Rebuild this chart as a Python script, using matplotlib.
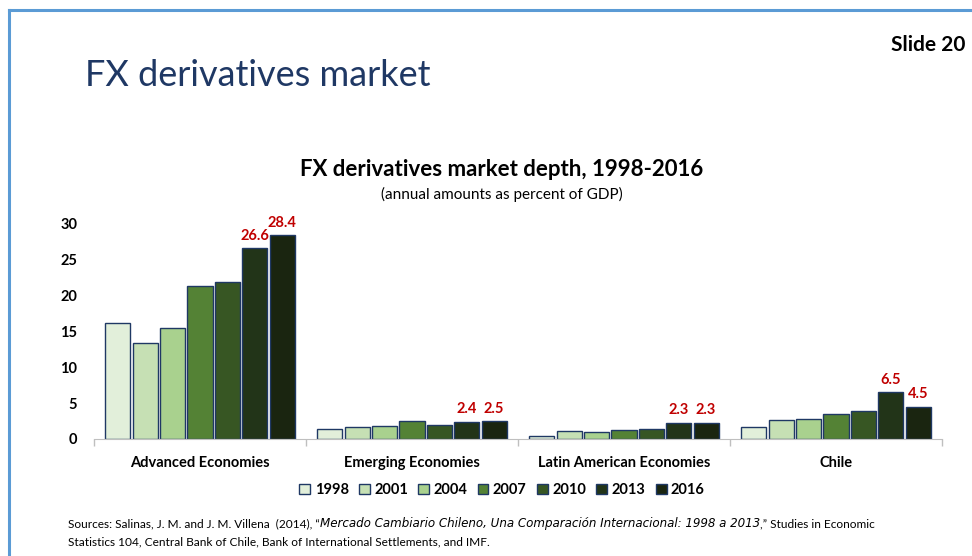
import numpy as np
import matplotlib
matplotlib.use("Agg")
import matplotlib.pyplot as plt
from matplotlib.lines import Line2D
from matplotlib.patches import Patch

plt.rcParams['font.family'] = ['Lato', 'DejaVu Sans']

# Data (percent of GDP)
regions = ['Advanced Economies', 'Emerging Economies', 'Latin American Economies', 'Chile']
years = ['1998', '2001', '2004', '2007', '2010', '2013', '2016']
values = {
    '1998': [16.2, 1.35, 0.4, 1.7],
    '2001': [13.4, 1.65, 1.05, 2.65],
    '2004': [15.5, 1.75, 0.95, 2.85],
    '2007': [21.3, 2.45, 1.2, 3.45],
    '2010': [21.9, 2.0, 1.35, 3.9],
    '2013': [26.6, 2.4, 2.3, 6.5],
    '2016': [28.4, 2.5, 2.3, 4.5],
}
# only the last two years carry a value label
labelled_years = ['2013', '2016']
yticks = [0, 5, 10, 15, 20, 25, 30]

colors = ['#E2EFDA', '#C6E0B4', '#A9D18E', '#548235', '#375623', '#223418', '#1A2510']
edge = '#1F3864'
red = '#C00000'

fig = plt.figure(figsize=(9.72, 5.56), dpi=100)
ax = fig.add_axes([94 / 972, 1 - 439 / 556, (942 - 94) / 972, (439 - 224) / 556])

x = np.arange(len(regions))
slot = 0.129
width = 0.118
for i, yr in enumerate(years):
    pos = x + (i - 3) * slot
    bars = ax.bar(pos, values[yr], width, color=colors[i], edgecolor=edge, linewidth=1, label=yr)
    if yr in labelled_years:
        for b, v in zip(bars, values[yr]):
            ax.annotate(f'{v:.1f}', (b.get_x() + b.get_width() / 2, b.get_height()),
                        xytext=(0, 4), textcoords='offset points', ha='center', va='bottom',
                        color=red, fontweight='bold', fontsize=10.5, annotation_clip=False)

ax.set_xlim(-0.5, 3.5)
ax.set_ylim(0, 30)
ax.set_yticks(yticks)
ax.set_yticklabels([str(t) for t in yticks], fontweight='bold', fontsize=10.5)
ax.tick_params(axis='y', length=0, pad=12)
ax.set_xticks(x)
ax.set_xticklabels(regions, fontweight='bold', fontsize=10.5)
ax.set_xticks(np.arange(-0.5, 4, 1), minor=True)
ax.tick_params(axis='x', which='major', length=0, pad=12)
ax.tick_params(axis='x', which='minor', length=5, color='#BFBFBF', width=1)
for s in ['top', 'right', 'left']:
    ax.spines[s].set_visible(False)
ax.spines['bottom'].set_color('#BFBFBF')

handles = [Patch(facecolor=c, edgecolor=edge, linewidth=1) for c in colors]
leg = fig.legend(handles, years, loc='center', bbox_to_anchor=(502 / 972, 1 - 490 / 556), ncol=7,
                 frameon=False, handlelength=0.75, handleheight=0.75, handletextpad=0.3,
                 columnspacing=0.7, prop={'weight': 'bold', 'size': 10.5})

# Slide text
fig.text(85 / 972, 1 - 75 / 556, 'FX derivatives market', fontsize=26, color='#1F3864',
         ha='left', va='center')
fig.text(965 / 972, 1 - 45 / 556, 'Slide 20', fontsize=15, fontweight='bold', ha='right', va='center')
fig.text(502 / 972, 1 - 170 / 556, 'FX derivatives market depth, 1998-2016', fontsize=16,
         fontweight='bold', ha='center', va='center')
fig.text(502 / 972, 1 - 194 / 556, '(annual amounts as percent of GDP)', fontsize=11,
         ha='center', va='center')

# Sources footnote with italic title
fs = 8.6
y1 = 1 - 527 / 556
t1 = fig.text(68 / 972, y1, 'Sources: Salinas, J. M. and J. M. Villena  (2014), \u201c',
              fontsize=fs, va='baseline', ha='left')
t2 = plt.annotate('Mercado Cambiario Chileno, Una Comparaci\u00f3n Internacional: 1998 a 2013',
                  xy=(1, y1), xycoords=(t1, 'figure fraction'), fontsize=fs, style='italic',
                  family='DejaVu Sans', va='baseline', ha='left')
plt.annotate(',\u201d Studies in Economic', xy=(1, y1), xycoords=(t2, 'figure fraction'),
             fontsize=fs, va='baseline', ha='left')
fig.text(68 / 972, 1 - 545 / 556,
         'Statistics 104, Central Bank of Chile, Bank of International Settlements, and IMF.',
         fontsize=fs, va='baseline', ha='left')

# slide frame
fig.add_artist(Line2D([9 / 972, 1], [1 - 10 / 556, 1 - 10 / 556], color='#5B9BD5', lw=2.2,
                      transform=fig.transFigure))
fig.add_artist(Line2D([9 / 972, 9 / 972], [0, 1 - 10 / 556], color='#5B9BD5', lw=2.2,
                      transform=fig.transFigure))

fig.savefig('out.png', dpi=100)
